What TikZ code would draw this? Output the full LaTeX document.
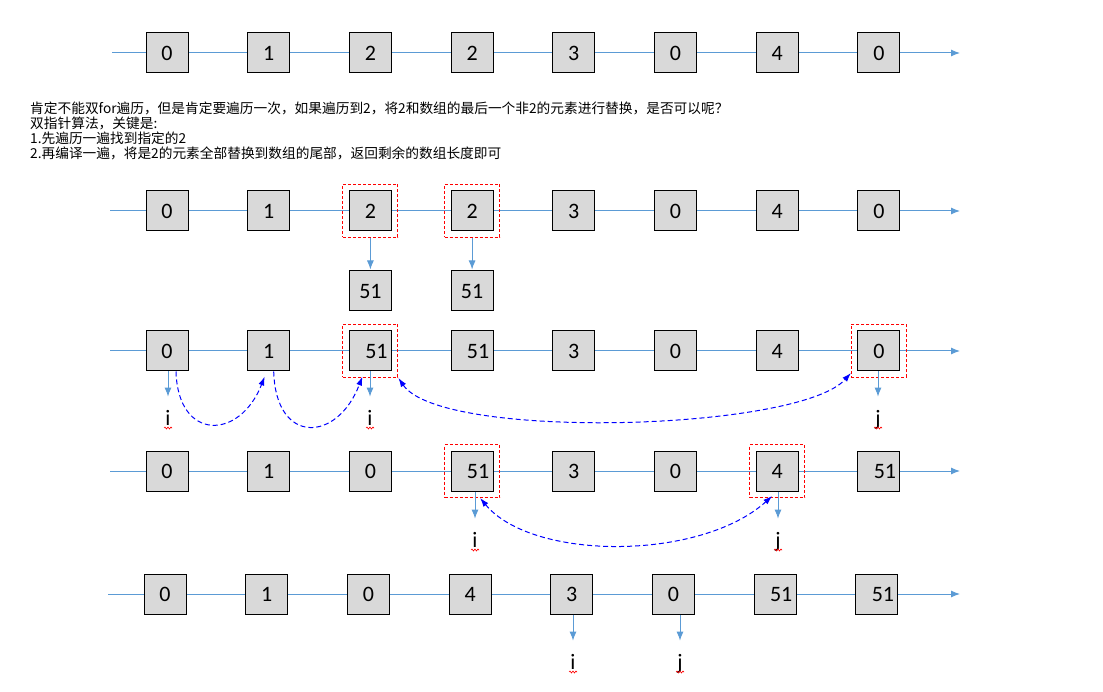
\documentclass[tikz,border=0pt]{standalone}
\usepackage{fontspec}
\setmainfont{Carlito}
\newfontfamily\cjk{Noto Sans CJK SC}
\usetikzlibrary{positioning,fit,arrows.meta,decorations.pathmorphing}
\definecolor{lineblue}{HTML}{5B9BD5}
\definecolor{cellgray}{HTML}{D9D9D9}
\newcommand{\offnum}[1]{\hspace*{12pt}#1}

\begin{document}
\begin{tikzpicture}[x=1pt,y=-1pt,node distance=101.7pt,
	  cell/.style={draw,fill=cellgray,line width=1pt,minimum width=42pt,minimum height=40pt,inner sep=0pt,font=\fontsize{22}{26}\selectfont},
	  axis/.style={lineblue,line width=1pt,-{Latex[length=9pt,width=7pt]}},
	  ptr/.style={lineblue,line width=1pt,-{Latex[length=9pt,width=7pt]}},
	  hl/.style={draw=red,dash pattern=on 3pt off 2pt,line width=1pt,inner sep=6pt},
	  hop/.style={blue,dash pattern=on 5pt off 3pt,line width=1pt,-{Latex[length=9pt,width=6pt]}},
	  swap/.style={hop,{Latex[length=9pt,width=6pt]}-{Latex[length=9pt,width=6pt]}},
	  idx/.style={anchor=base,inner sep=0pt,font=\fontsize{22}{26}\selectfont},
	  squig/.style={red,line width=0.6pt,decorate,decoration={snake,amplitude=1pt,segment length=3pt}},
	  note/.style={anchor=base west,inner sep=0pt,font=\cjk\fontsize{13.7}{15}\selectfont}]

	  \useasboundingbox (0,0) rectangle (1103,692);

	  % row 1
	  \coordinate (s1) at (112,53);
	  \coordinate (e1) at (960,53);
	  \path[axis] (s1) edge (e1);
	  \node[cell] (a1) at (167,53) {0};
	  \node[cell] (a2) [right of=a1] {1};
	  \node[cell] (a3) [right of=a2] {2};
	  \node[cell] (a4) [right of=a3] {2};
	  \node[cell] (a5) [right of=a4] {3};
	  \node[cell] (a6) [right of=a5] {0};
	  \node[cell] (a7) [right of=a6] {4};
	  \node[cell] (a8) [right of=a7] {0};

	  \node[note] (t1) at (30,114) {肯定不能双for遍历，但是肯定要遍历一次，如果遍历到2，将2和数组的最后一个非2的元素进行替换，是否可以呢？};
	  \node[note] (t2) at (30,129) {双指针算法，关键是:};
	  \node[note] (t3) at (30,144) {1.先遍历一遍找到指定的2};
	  \node[note] (t4) at (30,159) {2.再编译一遍，将是2的元素全部替换到数组的尾部，返回剩余的数组长度即可};

	  % row 2
	  \coordinate (s2) at (110,211);
	  \coordinate (e2) at (960,211);
	  \path[axis] (s2) edge (e2);
	  \node[cell] (b1) at (167,211) {0};
	  \node[cell] (b2) [right of=b1] {1};
	  \node[cell] (b3) [right of=b2] {2};
	  \node[cell] (b4) [right of=b3] {2};
	  \node[cell] (b5) [right of=b4] {3};
	  \node[cell] (b6) [right of=b5] {0};
	  \node[cell] (b7) [right of=b6] {4};
	  \node[cell] (b8) [right of=b7] {0};
	  \node[hl,fit=(b3)] (hb3) {};
	  \node[hl,fit=(b4)] (hb4) {};
	  \node[cell] (g3) [below of=b3,node distance=80pt] {51};
	  \node[cell] (g4) [below of=b4,node distance=80pt] {51};
	  \path[ptr,shorten >=1pt] (hb3) edge (g3)
	    (hb4) edge (g4);

	  % row 3
	  \coordinate (s3) at (110,351);
	  \coordinate (e3) at (960,351);
	  \path[axis] (s3) edge (e3);
	  \node[cell] (c1) at (167,351) {0};
	  \node[cell] (c2) [right of=c1] {1};
	  \node[cell] (c3) [right of=c2] {\offnum{51}};
	  \node[cell] (c4) [right of=c3] {\offnum{51}};
	  \node[cell] (c5) [right of=c4] {3};
	  \node[cell] (c6) [right of=c5] {0};
	  \node[cell] (c7) [right of=c6] {4};
	  \node[cell] (c8) [right of=c7] {0};
	  \node[hl,fit=(c3)] (hc3) {};
	  \node[hl,fit=(c8)] (hc8) {};
	  \node[idx] (p1) at (168,425) {i};
	  \node[idx] (p2) at (370,425) {i};
	  \node[idx] (p3) at (878,425) {j};
	  \path[ptr,shorten >=13pt] (c1.south -| p1) edge (p1)
	    (c3.south -| p2) edge (p2)
	    (c8.south -| p3) edge (p3);
	  \draw[hop] ([xshift=9pt]c1.south) .. controls +(2,70) and +(-25,64) .. ([xshift=-4pt,yshift=-5pt]c2.south);
	  \draw[hop] ([xshift=5pt]c2.south) .. controls +(2,74) and +(-25,66) .. ([xshift=-8pt,yshift=-5pt]c3.south);
	  \draw[swap] (hc3.south east) .. controls +(43,63) and +(-52,58) .. ([yshift=5pt]hc8.south west);

	  % row 4
	  \coordinate (s4) at (110,471);
	  \coordinate (e4) at (960,471);
	  \path[axis] (s4) edge (e4);
	  \node[cell] (d1) at (167,471) {0};
	  \node[cell] (d2) [right of=d1] {1};
	  \node[cell] (d3) [right of=d2] {0};
	  \node[cell] (d4) [right of=d3] {\offnum{51}};
	  \node[cell] (d5) [right of=d4] {3};
	  \node[cell] (d6) [right of=d5] {0};
	  \node[cell] (d7) [right of=d6] {4};
	  \node[cell] (d8) [right of=d7] {\offnum{51}};
	  \node[hl,fit=(d4)] (hd4) {};
	  \node[hl,fit=(d7)] (hd7) {};
	  \node[idx] (q1) at (475,547) {i};
	  \node[idx] (q2) at (778,547) {j};
	  \path[ptr,shorten >=13pt] (d4.south -| q1) edge (q1)
	    (d7.south -| q2) edge (q2);
	  \draw[swap] ([xshift=8pt]hd4.south) .. controls +(52,63) and +(-72,65) .. ([xshift=-5pt,yshift=2pt]hd7.south);

	  % row 5
	  \coordinate (s5) at (108,594);
	  \coordinate (e5) at (960,594);
	  \path[axis] (s5) edge (e5);
	  \node[cell] (f1) at (165,594) {0};
	  \node[cell] (f2) [right of=f1] {1};
	  \node[cell] (f3) [right of=f2] {0};
	  \node[cell] (f4) [right of=f3] {4};
	  \node[cell] (f5) [right of=f4] {3};
	  \node[cell] (f6) [right of=f5] {0};
	  \node[cell] (f7) [right of=f6] {\offnum{51}};
	  \node[cell] (f8) [right of=f7] {\offnum{51}};
	  \node[idx] (r1) at (573,669) {i};
	  \node[idx] (r2) at (680,669) {j};
	  \path[ptr,shorten >=13pt] (f5.south -| r1) edge (r1)
	    (f6.south -| r2) edge (r2);

	  % spell marks
	  \foreach \n in {p1,p2,p3,q1,q2,r1,r2}
	    \draw[squig] ([xshift=-4pt,yshift=-3pt]\n.base) -- ++(8,0);

\end{tikzpicture}
\end{document}
